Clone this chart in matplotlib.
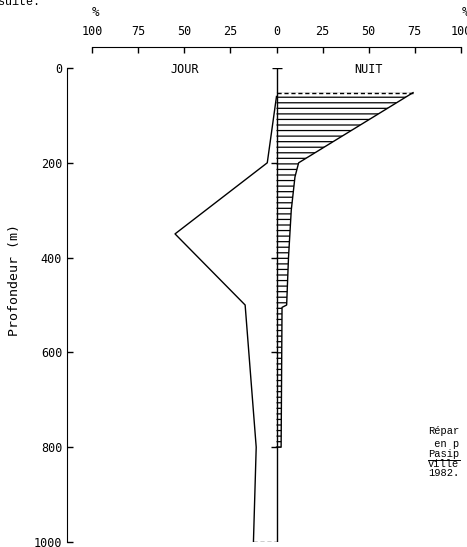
import matplotlib
matplotlib.use("Agg")
import matplotlib.pyplot as plt
from matplotlib.lines import TICKLEFT, Line2D

# Day profile (percent, drawn to the left) and night profile (to the right)
day_depth = [60, 200, 350, 500, 800, 1000]
day_pct = [0, 5, 55, 17, 11, 12.5]

night_depth = [52, 52, 200, 230, 300, 400, 500, 505, 800, 800]
night_pct = [0, 74, 12, 10, 8, 6.5, 5.5, 3, 2.5, 0]

x_ticks = [-100, -75, -50, -25, 0, 25, 50, 75, 100]
x_labels = ["100", "75", "50", "25", "0", "25", "50", "75", "100"]
y_ticks = [0, 200, 400, 600, 800, 1000]

caption = ["Répar", " en p", "Pasip", "Ville", "1982."]
caption_base = [434, 447, 457, 467, 476]   # baselines, px from top

plt.rcParams["hatch.linewidth"] = 0.9
mono = "DejaVu Sans Mono"
W, H = 467, 547

fig = plt.figure(figsize=(4.67, 5.47), dpi=100)
ax = fig.add_axes([92 / W, 5 / H, 369 / W, 474 / H])
ax.set_xlim(-100, 100)
ax.set_ylim(1000, 0)

# night: hatched area with solid right edge, dashed top
ax.fill_betweenx(night_depth, 0, night_pct, facecolor="none", edgecolor="black",
                 hatch="---", linewidth=0)
ax.plot(night_pct[1:], night_depth[1:], color="black", lw=1.0)
ax.plot(night_pct[:2], night_depth[:2], color="black", lw=1.0, ls=(0, (3, 2)))

# day: line on the left, dashed closure at the bottom
day_x = [-v for v in day_pct]
ax.plot(day_x, day_depth, color="black", lw=1.0)
ax.plot([day_x[-1], 0], [day_depth[-1], day_depth[-1]], color="black", lw=1.0, ls=(0, (3, 2)))

# central zero axis with its own ticks
ax.plot([0, 0], [0, 1000], color="black", lw=1.0)
ax.plot([0], [0], marker="_", ms=7, color="black", mew=1.0)
ax.plot([0] * 4, y_ticks[1:5], ls="none", marker=TICKLEFT, ms=4, color="black", mew=1.0)

# axes
for s in ["right", "bottom"]:
    ax.spines[s].set_visible(False)
ax.spines["left"].set_position(("outward", 18))
ax.spines["top"].set_position(("outward", 15))
ax.spines["left"].set_bounds(0, 1000)
ax.spines["top"].set_bounds(-100, 100)
ax.xaxis.tick_top()
ax.set_xticks(x_ticks)
ax.set_xticklabels(x_labels, family=mono, fontsize=8.5)
ax.set_yticks(y_ticks)
ax.set_yticklabels([str(v) for v in y_ticks], family=mono, fontsize=8.5)
ax.tick_params(axis="x", direction="in", length=4, pad=6.5, width=1)
ax.tick_params(axis="y", direction="in", length=4, pad=3.5, width=1)

ax.text(-50, 3, "JOUR", family=mono, fontsize=8.5, ha="center", va="center")
ax.text(50, 3, "NUIT", family=mono, fontsize=8.5, ha="center", va="center")

fig.text(95 / W, 1 - 13 / H, "%", family=mono, fontsize=9, ha="center", va="center")
fig.text(465 / W, 1 - 13 / H, "%", family=mono, fontsize=9, ha="center", va="center")
fig.text(15 / W, 1 - 280 / H, "Profondeur (m)", family=mono, fontsize=9.5,
         rotation=90, ha="center", va="center")

fig.text(-2 / W, 1 - 5 / H, "suite.", family="Liberation Mono", fontsize=8.5, va="baseline")
for line, yb in zip(caption, caption_base):
    y = 1 - yb / H
    fig.text(428 / W, y, line, family="Liberation Mono", fontsize=7.5, va="baseline")
    if line == "Pasip":
        fig.add_artist(Line2D([428 / W, 460 / W], [y - 2.5 / H, y - 2.5 / H], color="black", lw=0.7))

fig.savefig("out.png", dpi=100)
